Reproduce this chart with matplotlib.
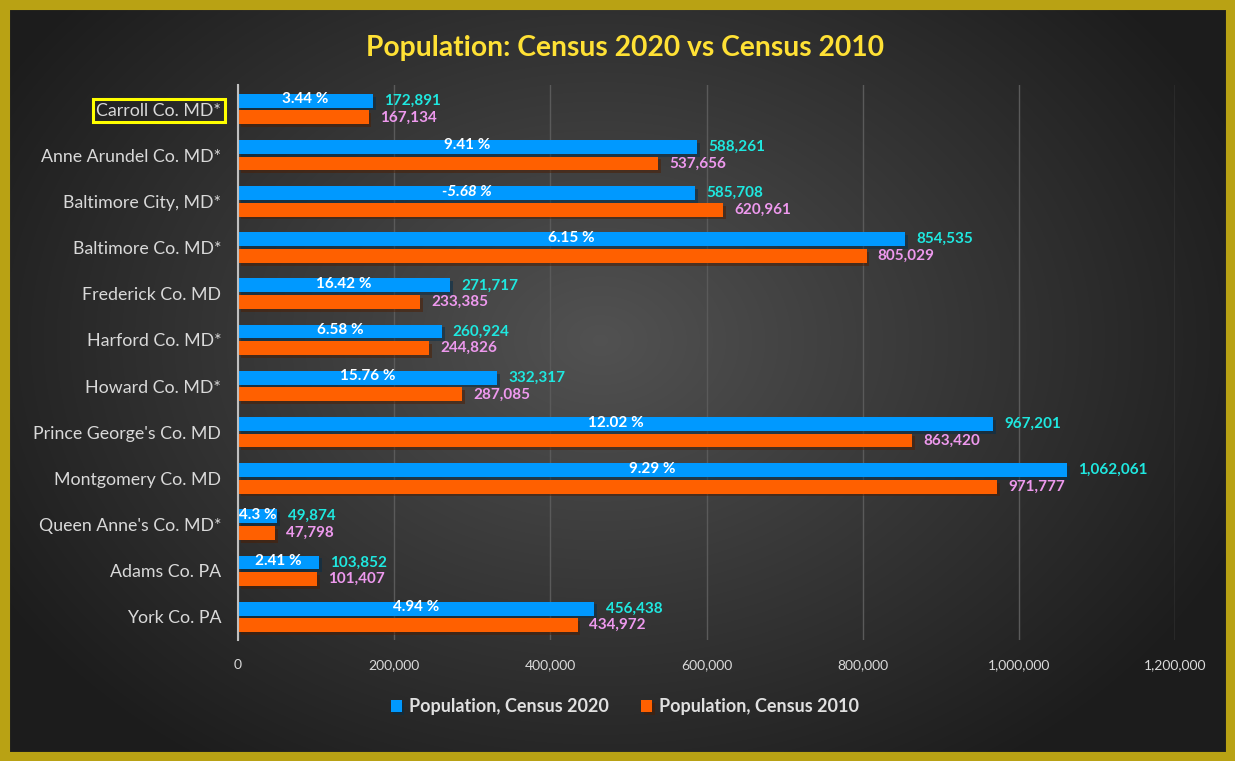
import matplotlib
matplotlib.use("Agg")
import matplotlib.pyplot as plt
import matplotlib.patheffects as pe
from matplotlib.patches import Rectangle
from matplotlib.ticker import FuncFormatter
import numpy as np

plt.rcParams["font.family"] = ["Lato", "DejaVu Sans"]

# data
counties = ["Carroll Co. MD*", "Anne Arundel Co. MD*", "Baltimore City, MD*",
            "Baltimore Co. MD*", "Frederick Co. MD", "Harford Co. MD*",
            "Howard Co. MD*", "Prince George's Co. MD", "Montgomery Co. MD",
            "Queen Anne's Co. MD*", "Adams Co. PA", "York Co. PA"]
pop_2020 = [172891, 588261, 585708, 854535, 271717, 260924,
            332317, 967201, 1062061, 49874, 103852, 456438]
pop_2010 = [167134, 537656, 620961, 805029, 233385, 244826,
            287085, 863420, 971777, 47798, 101407, 434972]
pct_labels = ["3.44 %", "9.41 %", "-5.68 %", "6.15 %", "16.42 %", "6.58 %",
              "15.76 %", "12.02 %", "9.29 %", "4.3 %", "2.41 %", "4.94 %"]
x_ticks = [0, 200000, 400000, 600000, 800000, 1000000, 1200000]

BLUE = "#0099FF"
ORANGE = "#FF6000"
CYAN = "#1FE8E0"
PINK = "#EE99EE"
GOLD = "#B9A214"
TXT = "#D9D9D9"

W, H = 1235, 761
fig = plt.figure(figsize=(W / 100, H / 100), dpi=100)

# background: radial gradient, lighter near the middle
bg = fig.add_axes([0, 0, 1, 1])
yy, xx = np.mgrid[0:H, 0:W]
r = np.sqrt(((xx - 600) / 700) ** 2 + ((yy - 340) / 520) ** 2)
shade = np.clip(0.32 - 0.21 * r, 0.11, 0.32)
bg.imshow(np.dstack([shade] * 3), extent=[0, 1, 0, 1], aspect="auto", zorder=0)
bg.set_axis_off()
fig.patches.append(Rectangle((0.003, 0.005), 0.994, 0.99, transform=fig.transFigure,
                             fill=False, edgecolor=GOLD, linewidth=8, zorder=10))

ax = fig.add_axes([238 / W, 1 - 640 / H, 937 / W, 555 / H])
ax.set_facecolor("none")

y = np.arange(len(counties))
h = 0.30
off = 0.18
shadow = [pe.SimplePatchShadow(offset=(2, -2), alpha=0.5), pe.Normal()]
b20 = ax.barh(y - off, pop_2020, height=h, color=BLUE, label="Population, Census 2020",
              zorder=3, path_effects=shadow)
b10 = ax.barh(y + off, pop_2010, height=h, color=ORANGE, label="Population, Census 2010",
              zorder=3, path_effects=shadow)

for i in range(len(counties)):
    ax.annotate(f"{pop_2020[i]:,}", (pop_2020[i], y[i] - off), xytext=(8, 0),
                textcoords="offset points", va="center", ha="left",
                color=CYAN, fontsize=11, fontweight="bold", zorder=5)
    ax.annotate(f"{pop_2010[i]:,}", (pop_2010[i], y[i] + off), xytext=(8, 0),
                textcoords="offset points", va="center", ha="left",
                color=PINK, fontsize=11, fontweight="bold", zorder=5)
    style = "italic" if pct_labels[i].startswith("-") else "normal"
    ax.text(pop_2020[i] / 2, y[i] - off - 0.03, pct_labels[i], ha="center", va="center",
            color="white", fontsize=11, fontweight="bold", fontstyle=style, zorder=5)

ax.set_xlim(0, 1200000)
ax.set_ylim(len(counties) - 0.5, -0.52)
ax.set_xticks(x_ticks)
ax.xaxis.set_major_formatter(FuncFormatter(lambda v, p: f"{int(v):,}"))
ax.set_yticks(y)
ax.set_yticklabels(counties)
ax.tick_params(axis="x", length=0, pad=14, labelsize=10, labelcolor=TXT)
ax.tick_params(axis="y", length=0, pad=12, labelsize=12.8, labelcolor=TXT)
ax.grid(axis="x", color="#5a5a5a", linewidth=1, zorder=0)
for s in ["top", "right", "bottom"]:
    ax.spines[s].set_visible(False)
ax.spines["left"].set_color("#bfbfbf")
ax.spines["left"].set_linewidth(1.5)
ax.spines["left"].set_zorder(4)

# highlight box around Carroll County
ax.get_yticklabels()[0].set_bbox(dict(facecolor="none", edgecolor="#FFFF00",
                                      linewidth=2.2, pad=2.5))

fig.text(0.506, 0.937, "Population: Census 2020 vs Census 2010", ha="center", va="center",
         color="#FFE135", fontsize=20.3, fontweight="bold")

fig.legend(handles=[b20, b10], loc="center", bbox_to_anchor=(0.506, 0.071), ncol=2,
           frameon=False, handlelength=0.6, handleheight=0.6,
           handletextpad=0.4, columnspacing=1.8,
           prop={"weight": "bold", "size": 13}, labelcolor="#E0E0E0")

fig.savefig("out.png", dpi=100)
